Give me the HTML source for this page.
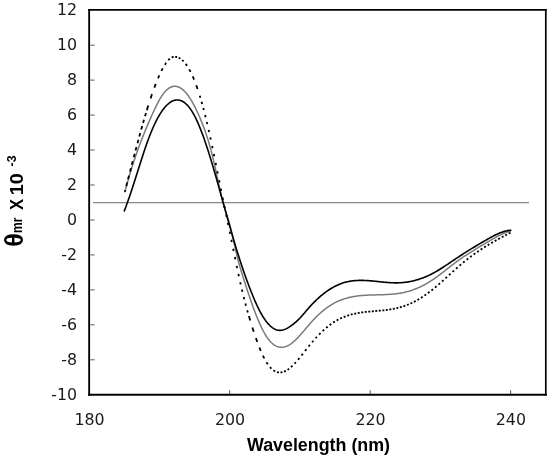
<!DOCTYPE html>
<html><head><meta charset="utf-8"><title>CD spectra</title>
<style>
html,body{margin:0;padding:0;background:#fff;}
body{width:550px;height:458px;overflow:hidden;}
svg{display:block;}
.tk text{font-family:"DejaVu Sans","Liberation Sans",sans-serif;font-size:15.8px;fill:#1a1a1a;}
.ax{font-family:"Liberation Sans",sans-serif;font-weight:bold;fill:#000;}
</style></head><body>
<svg width="550" height="458" viewBox="0 0 550 458">
<rect width="550" height="458" fill="#fff"/>
<line x1="93" x2="529" y1="202.55" y2="202.55" stroke="#888" stroke-width="1.2"/>
<g stroke="#5a5a5a" stroke-width="1"><line x1="90.3" x2="94.6" y1="359.8" y2="359.8"/><line x1="90.3" x2="94.6" y1="324.8" y2="324.8"/><line x1="90.3" x2="94.6" y1="289.9" y2="289.9"/><line x1="90.3" x2="94.6" y1="254.9" y2="254.9"/><line x1="90.3" x2="94.6" y1="220.0" y2="220.0"/><line x1="90.3" x2="94.6" y1="185.0" y2="185.0"/><line x1="90.3" x2="94.6" y1="150.0" y2="150.0"/><line x1="90.3" x2="94.6" y1="115.1" y2="115.1"/><line x1="90.3" x2="94.6" y1="80.1" y2="80.1"/><line x1="90.3" x2="94.6" y1="45.2" y2="45.2"/><line x1="229.7" x2="229.7" y1="390.2" y2="394"/><line x1="370.2" x2="370.2" y1="390.2" y2="394"/><line x1="510.6" x2="510.6" y1="390.2" y2="394"/></g>
<path d="M124.90,191.99 L125.70,188.94 L126.50,185.96 L127.30,183.05 L128.10,180.19 L128.90,177.40 L129.70,174.67 L130.50,171.99 L131.30,169.36 L132.10,166.79 L132.90,164.28 L133.70,161.81 L134.50,159.39 L135.30,157.01 L136.10,154.68 L136.90,152.39 L137.70,150.15 L138.50,147.94 L139.30,145.77 L140.10,143.64 L140.90,141.54 L141.70,139.47 L142.50,137.43 L143.30,135.42 L144.10,133.44 L144.90,131.48 L145.70,129.55 L146.50,127.64 L147.30,125.75 L148.10,123.87 L148.90,122.02 L149.70,120.18 L150.50,118.35 L151.30,116.53 L152.10,114.74 L152.90,112.97 L153.70,111.22 L154.50,109.51 L155.30,107.83 L156.10,106.19 L156.90,104.59 L157.70,103.04 L158.50,101.54 L159.30,100.10 L160.10,98.71 L160.90,97.39 L161.70,96.14 L162.50,94.96 L163.30,93.85 L164.10,92.82 L164.90,91.87 L165.70,90.99 L166.50,90.18 L167.30,89.46 L168.10,88.80 L168.90,88.22 L169.70,87.72 L170.50,87.29 L171.30,86.93 L172.10,86.65 L172.90,86.44 L173.70,86.30 L174.50,86.23 L175.30,86.24 L176.10,86.32 L176.90,86.47 L177.70,86.69 L178.50,86.97 L179.30,87.33 L180.10,87.75 L180.90,88.25 L181.70,88.80 L182.50,89.42 L183.30,90.11 L184.10,90.86 L184.90,91.68 L185.70,92.55 L186.50,93.49 L187.30,94.49 L188.10,95.55 L188.90,96.67 L189.70,97.85 L190.50,99.09 L191.30,100.38 L192.10,101.73 L192.90,103.14 L193.70,104.60 L194.50,106.12 L195.30,107.69 L196.10,109.31 L196.90,110.98 L197.70,112.71 L198.50,114.49 L199.30,116.32 L200.10,118.19 L200.90,120.12 L201.70,122.09 L202.50,124.11 L203.30,126.19 L204.10,128.32 L204.90,130.51 L205.70,132.78 L206.50,135.14 L207.30,137.58 L208.10,140.11 L208.90,142.75 L209.70,145.50 L210.50,148.36 L211.30,151.35 L212.10,154.47 L212.90,157.74 L213.70,161.14 L214.50,164.65 L215.30,168.26 L216.10,171.93 L216.90,175.63 L217.70,179.34 L218.50,183.04 L219.30,186.69 L220.10,190.27 L220.90,193.75 L221.70,197.11 L222.50,200.32 L223.30,203.34 L224.10,206.19 L224.90,208.88 L225.70,211.47 L226.50,214.01 L227.30,216.54 L228.10,219.11 L228.90,221.77 L229.70,224.57 L230.50,227.54 L231.30,230.74 L232.10,234.13 L232.90,237.65 L233.70,241.25 L234.50,244.88 L235.30,248.50 L236.10,252.03 L236.90,255.44 L237.70,258.66 L238.50,261.72 L239.30,264.62 L240.10,267.40 L240.90,270.08 L241.70,272.68 L242.50,275.24 L243.30,277.77 L244.10,280.29 L244.90,282.80 L245.70,285.28 L246.50,287.75 L247.30,290.19 L248.10,292.61 L248.90,295.00 L249.70,297.36 L250.50,299.69 L251.30,301.99 L252.10,304.25 L252.90,306.48 L253.70,308.66 L254.50,310.80 L255.30,312.90 L256.10,314.96 L256.90,316.97 L257.70,318.92 L258.50,320.82 L259.30,322.67 L260.10,324.47 L260.90,326.20 L261.70,327.87 L262.50,329.48 L263.30,331.03 L264.10,332.50 L264.90,333.91 L265.70,335.25 L266.50,336.51 L267.30,337.70 L268.10,338.81 L268.90,339.85 L269.70,340.81 L270.50,341.70 L271.30,342.52 L272.10,343.27 L272.90,343.95 L273.70,344.57 L274.50,345.11 L275.30,345.60 L276.10,346.02 L276.90,346.37 L277.70,346.67 L278.50,346.91 L279.30,347.08 L280.10,347.20 L280.90,347.27 L281.70,347.27 L282.50,347.23 L283.30,347.13 L284.10,346.98 L284.90,346.78 L285.70,346.53 L286.50,346.24 L287.30,345.89 L288.10,345.50 L288.90,345.07 L289.70,344.59 L290.50,344.08 L291.30,343.52 L292.10,342.92 L292.90,342.29 L293.70,341.62 L294.50,340.91 L295.30,340.18 L296.10,339.41 L296.90,338.62 L297.70,337.80 L298.50,336.96 L299.30,336.10 L300.10,335.22 L300.90,334.33 L301.70,333.42 L302.50,332.50 L303.30,331.57 L304.10,330.63 L304.90,329.68 L305.70,328.74 L306.50,327.79 L307.30,326.84 L308.10,325.90 L308.90,324.96 L309.70,324.03 L310.50,323.11 L311.30,322.20 L312.10,321.30 L312.90,320.42 L313.70,319.56 L314.50,318.71 L315.30,317.88 L316.10,317.07 L316.90,316.27 L317.70,315.48 L318.50,314.72 L319.30,313.97 L320.10,313.24 L320.90,312.52 L321.70,311.82 L322.50,311.14 L323.30,310.47 L324.10,309.83 L324.90,309.20 L325.70,308.58 L326.50,307.99 L327.30,307.41 L328.10,306.85 L328.90,306.30 L329.70,305.77 L330.50,305.26 L331.30,304.77 L332.10,304.29 L332.90,303.83 L333.70,303.39 L334.50,302.96 L335.30,302.54 L336.10,302.14 L336.90,301.76 L337.70,301.39 L338.50,301.03 L339.30,300.69 L340.10,300.36 L340.90,300.04 L341.70,299.74 L342.50,299.45 L343.30,299.17 L344.10,298.90 L344.90,298.65 L345.70,298.41 L346.50,298.17 L347.30,297.95 L348.10,297.74 L348.90,297.54 L349.70,297.35 L350.50,297.17 L351.30,297.00 L352.10,296.84 L352.90,296.69 L353.70,296.55 L354.50,296.41 L355.30,296.28 L356.10,296.16 L356.90,296.05 L357.70,295.95 L358.50,295.85 L359.30,295.76 L360.10,295.67 L360.90,295.59 L361.70,295.52 L362.50,295.45 L363.30,295.39 L364.10,295.33 L364.90,295.28 L365.70,295.23 L366.50,295.18 L367.30,295.14 L368.10,295.11 L368.90,295.07 L369.70,295.04 L370.50,295.01 L371.30,294.99 L372.10,294.96 L372.90,294.94 L373.70,294.92 L374.50,294.90 L375.30,294.88 L376.10,294.86 L376.90,294.84 L377.70,294.82 L378.50,294.81 L379.30,294.79 L380.10,294.77 L380.90,294.75 L381.70,294.73 L382.50,294.70 L383.30,294.68 L384.10,294.65 L384.90,294.62 L385.70,294.59 L386.50,294.55 L387.30,294.51 L388.10,294.47 L388.90,294.42 L389.70,294.37 L390.50,294.31 L391.30,294.25 L392.10,294.19 L392.90,294.12 L393.70,294.04 L394.50,293.96 L395.30,293.87 L396.10,293.77 L396.90,293.67 L397.70,293.56 L398.50,293.45 L399.30,293.32 L400.10,293.19 L400.90,293.05 L401.70,292.90 L402.50,292.74 L403.30,292.58 L404.10,292.40 L404.90,292.22 L405.70,292.03 L406.50,291.83 L407.30,291.62 L408.10,291.40 L408.90,291.17 L409.70,290.94 L410.50,290.69 L411.30,290.43 L412.10,290.17 L412.90,289.89 L413.70,289.61 L414.50,289.31 L415.30,289.01 L416.10,288.69 L416.90,288.36 L417.70,288.03 L418.50,287.68 L419.30,287.32 L420.10,286.96 L420.90,286.58 L421.70,286.19 L422.50,285.79 L423.30,285.38 L424.10,284.96 L424.90,284.53 L425.70,284.09 L426.50,283.64 L427.30,283.17 L428.10,282.70 L428.90,282.22 L429.70,281.72 L430.50,281.22 L431.30,280.70 L432.10,280.17 L432.90,279.64 L433.70,279.09 L434.50,278.53 L435.30,277.97 L436.10,277.40 L436.90,276.82 L437.70,276.23 L438.50,275.63 L439.30,275.03 L440.10,274.43 L440.90,273.82 L441.70,273.21 L442.50,272.59 L443.30,271.97 L444.10,271.34 L444.90,270.72 L445.70,270.09 L446.50,269.46 L447.30,268.84 L448.10,268.21 L448.90,267.58 L449.70,266.95 L450.50,266.33 L451.30,265.71 L452.10,265.09 L452.90,264.47 L453.70,263.86 L454.50,263.25 L455.30,262.65 L456.10,262.05 L456.90,261.46 L457.70,260.88 L458.50,260.30 L459.30,259.73 L460.10,259.17 L460.90,258.61 L461.70,258.05 L462.50,257.50 L463.30,256.96 L464.10,256.42 L464.90,255.89 L465.70,255.36 L466.50,254.84 L467.30,254.32 L468.10,253.81 L468.90,253.30 L469.70,252.79 L470.50,252.29 L471.30,251.79 L472.10,251.29 L472.90,250.80 L473.70,250.31 L474.50,249.82 L475.30,249.33 L476.10,248.85 L476.90,248.37 L477.70,247.89 L478.50,247.41 L479.30,246.94 L480.10,246.47 L480.90,245.99 L481.70,245.52 L482.50,245.05 L483.30,244.58 L484.10,244.11 L484.90,243.64 L485.70,243.17 L486.50,242.71 L487.30,242.24 L488.10,241.77 L488.90,241.30 L489.70,240.83 L490.50,240.35 L491.30,239.88 L492.10,239.42 L492.90,238.95 L493.70,238.49 L494.50,238.03 L495.30,237.58 L496.10,237.13 L496.90,236.69 L497.70,236.26 L498.50,235.84 L499.30,235.43 L500.10,235.03 L500.90,234.64 L501.70,234.26 L502.50,233.90 L503.30,233.55 L504.10,233.21 L504.90,232.90 L505.70,232.60 L506.50,232.31 L507.30,232.05 L508.10,231.81 L508.90,231.59 L509.70,231.38 L510.50,231.21 L510.80,231.15" fill="none" stroke="#7a7a7a" stroke-width="1.5" stroke-linejoin="round"/>
<path d="M124.30,191.41L124.61,191.41L124.93,191.31L125.24,190.11 M126.25,186.21L126.56,185.01L126.88,183.80L127.19,182.60 M128.05,179.27L128.36,178.06L128.68,176.85L128.99,175.64 M130.00,171.73L130.32,170.53L130.63,169.32L130.94,168.11 M131.80,164.79L132.12,163.59L132.43,162.39L132.74,161.19 M133.75,157.32L134.07,156.12L134.38,154.93L134.69,153.74 M135.55,150.47L135.87,149.29L136.18,148.11L136.49,146.94 M137.51,143.15L137.82,141.98L138.13,140.82L138.44,139.67 M139.31,136.49L139.62,135.34L139.93,134.20L140.25,133.06 M141.26,129.40L141.57,128.28L141.89,127.17L142.20,126.06 M143.06,123.01L143.38,121.92L143.69,120.83L144.00,119.74 M145.02,116.26L145.33,115.20L145.65,114.15L145.96,113.10 M146.83,110.23L147.30,108.67L147.78,107.13L148.26,105.60 M150.59,98.35L151.06,96.92L151.54,95.51L152.02,94.12 M154.35,87.57L154.81,86.32L155.28,85.10L155.74,83.89 M158.01,78.29L158.45,77.28L158.88,76.29L159.31,75.32 M161.44,70.87L161.87,70.03L162.30,69.20L162.74,68.40 M164.86,64.80L165.29,64.14L165.73,63.50L166.16,62.88 M168.28,60.24L168.80,59.69L169.32,59.19L169.84,58.74 M171.71,57.48L172.36,57.19L173.01,56.99L173.67,56.86 M175.17,56.81L175.81,56.88L176.46,57.00L177.10,57.16 M178.68,57.74L179.24,58.01L179.79,58.32L180.35,58.67 M182.19,60.07L182.64,60.47L183.09,60.90L183.54,61.36 M185.70,63.89L186.15,64.49L186.59,65.11L187.04,65.76 M189.21,69.32L189.66,70.13L190.10,70.96L190.55,71.82 M192.72,76.41L193.17,77.43L193.61,78.48L194.06,79.55 M196.23,85.20L196.68,86.43L197.12,87.69L197.57,88.98 M199.75,95.70L199.96,96.38L200.17,97.08L200.38,97.78 M201.57,101.84L201.78,102.58L201.99,103.33L202.20,104.09 M203.26,107.94L203.44,108.64L203.63,109.34L203.82,110.05 M205.08,115.00L205.27,115.75L205.45,116.50L205.64,117.26 M206.77,121.93L206.94,122.64L207.11,123.36L207.27,124.09 M208.59,129.83L208.76,130.58L208.93,131.34L209.10,132.09 M210.28,137.43L210.44,138.16L210.59,138.90L210.75,139.63 M212.10,145.95L212.26,146.70L212.42,147.46L212.58,148.21 M213.79,154.02L213.94,154.76L214.09,155.50L214.25,156.24 M215.61,162.92L215.77,163.67L215.92,164.43L216.07,165.18 M217.30,171.24L217.45,171.99L217.60,172.74L217.75,173.49 M219.12,180.30L219.28,181.05L219.43,181.80L219.58,182.55 M220.81,188.65L220.96,189.41L221.12,190.17L221.27,190.93 M222.63,197.64L222.79,198.39L222.94,199.14L223.09,199.89 M224.32,205.84L224.48,206.60L224.63,207.35L224.79,208.10 M226.15,214.66L226.30,215.41L226.46,216.16L226.61,216.91 M227.83,222.78L227.99,223.53L228.14,224.28L228.30,225.02 M229.66,231.60L229.81,232.35L229.97,233.10L230.12,233.85 M231.34,239.80L231.49,240.54L231.65,241.29L231.80,242.04 M233.17,248.76L233.32,249.51L233.47,250.26L233.63,251.02 M234.85,257.03L235.01,257.80L235.16,258.56L235.32,259.33 M236.68,265.90L236.83,266.65L236.99,267.40L237.15,268.15 M238.36,273.89L238.53,274.67L238.70,275.45L238.87,276.23 M240.19,282.24L240.36,282.99L240.52,283.73L240.69,284.47 M241.87,289.56L242.06,290.35L242.25,291.13L242.43,291.90 M243.70,297.03L243.89,297.77L244.07,298.51L244.26,299.24 M245.38,303.55L245.59,304.32L245.80,305.09L246.00,305.85 M247.21,310.23L247.42,310.96L247.62,311.69L247.83,312.42 M248.89,316.10L249.34,317.61L249.78,319.10L250.23,320.57 M252.41,327.59L252.85,328.98L253.29,330.35L253.74,331.71 M255.92,338.13L256.36,339.38L256.81,340.62L257.25,341.84 M259.43,347.54L259.87,348.64L260.32,349.72L260.76,350.78 M262.94,355.62L263.38,356.54L263.83,357.44L264.27,358.30 M266.45,362.18L266.89,362.90L267.34,363.58L267.78,364.24 M269.96,367.05L270.45,367.60L270.94,368.11L271.43,368.60 M273.47,370.28L274.07,370.67L274.66,371.03L275.26,371.34 M276.98,372.01L277.64,372.19L278.31,372.31L278.97,372.39 M280.49,372.41L281.14,372.35L281.79,372.25L282.44,372.11 M284.00,371.62L284.59,371.38L285.18,371.11L285.78,370.82 M287.51,369.79L288.04,369.44L288.57,369.07L289.10,368.67 M291.02,367.09L291.50,366.66L291.98,366.22L292.46,365.77 M294.53,363.68L294.98,363.21L295.42,362.73L295.87,362.24 M298.04,359.74L298.49,359.21L298.93,358.68L299.38,358.14 M301.56,355.45L302.00,354.89L302.44,354.33L302.89,353.77 M305.07,350.99L305.51,350.43L305.96,349.86L306.40,349.29 M308.58,346.54L309.02,345.99L309.47,345.44L309.91,344.89 M312.09,342.27L312.53,341.75L312.98,341.23L313.42,340.72 M315.60,338.26L316.05,337.76L316.51,337.26L316.97,336.77 M319.11,334.52L319.58,334.04L320.06,333.56L320.54,333.09 M322.62,331.07L323.12,330.61L323.61,330.15L324.11,329.70 M326.13,327.93L326.65,327.49L327.17,327.06L327.69,326.63 M329.64,325.10L330.18,324.69L330.73,324.29L331.27,323.90 M333.15,322.61L333.72,322.23L334.29,321.87L334.86,321.52 M336.66,320.45L337.25,320.12L337.84,319.79L338.43,319.48 M340.17,318.60L340.78,318.31L341.39,318.03L342.00,317.76 M343.68,317.04L344.31,316.79L344.93,316.55L345.56,316.32 M347.19,315.74L347.83,315.53L348.47,315.33L349.11,315.13 M350.71,314.67L351.35,314.49L352.00,314.32L352.65,314.16 M354.22,313.79L354.87,313.64L355.53,313.51L356.18,313.37 M357.73,313.08L358.39,312.96L359.05,312.85L359.71,312.75 M361.24,312.51L361.90,312.42L362.57,312.33L363.23,312.24 M364.75,312.06L365.42,311.98L366.08,311.91L366.74,311.84 M368.27,311.68L368.93,311.62L369.59,311.56L370.26,311.50 M371.78,311.37L372.44,311.31L373.11,311.25L373.77,311.20 M375.29,311.07L375.96,311.02L376.62,310.96L377.28,310.90 M378.80,310.77L379.47,310.71L380.13,310.65L380.79,310.59 M382.32,310.44L382.98,310.37L383.64,310.30L384.30,310.23 M385.83,310.05L386.49,309.97L387.15,309.88L387.81,309.79 M389.34,309.57L390.00,309.46L390.65,309.36L391.31,309.24 M392.85,308.96L393.50,308.84L394.16,308.71L394.81,308.57 M396.36,308.22L397.01,308.07L397.66,307.91L398.30,307.75 M399.88,307.33L400.51,307.15L401.15,306.96L401.79,306.77 M403.39,306.26L404.02,306.05L404.64,305.83L405.27,305.61 M406.90,305.01L407.52,304.77L408.13,304.52L408.75,304.27 M410.41,303.55L411.01,303.28L411.62,303.00L412.22,302.72 M413.92,301.88L414.51,301.58L415.10,301.27L415.69,300.96 M417.44,300.00L418.01,299.67L418.58,299.34L419.15,299.00 M420.95,297.90L421.51,297.55L422.06,297.20L422.62,296.83 M424.46,295.61L425.00,295.24L425.55,294.86L426.09,294.48 M427.97,293.12L428.50,292.73L429.03,292.33L429.56,291.93 M431.48,290.44L432.00,290.03L432.52,289.62L433.04,289.20 M435.00,287.59L435.50,287.17L436.01,286.74L436.52,286.31 M438.51,284.59L439.01,284.16L439.51,283.72L440.01,283.28 M442.02,281.49L442.51,281.05L443.01,280.60L443.50,280.16 M445.53,278.31L446.02,277.87L446.52,277.42L447.01,276.97 M449.04,275.10L449.54,274.65L450.03,274.20L450.52,273.75 M452.56,271.89L453.05,271.44L453.55,271.00L454.04,270.55 M456.07,268.72L456.57,268.28L457.07,267.83L457.57,267.39 M459.58,265.62L460.09,265.18L460.60,264.75L461.10,264.31 M463.09,262.63L463.61,262.21L464.13,261.78L464.64,261.36 M466.60,259.79L467.13,259.37L467.66,258.96L468.19,258.55 M470.12,257.07L470.65,256.67L471.19,256.27L471.73,255.87 M473.63,254.49L474.17,254.10L474.72,253.71L475.26,253.33 M477.14,252.02L477.69,251.65L478.25,251.27L478.80,250.90 M480.65,249.67L481.21,249.30L481.77,248.94L482.33,248.57 M484.16,247.41L484.73,247.05L485.30,246.70L485.87,246.35 M487.68,245.24L488.25,244.90L488.82,244.55L489.39,244.21 M491.19,243.15L491.77,242.82L492.34,242.48L492.92,242.15 M494.70,241.13L495.28,240.80L495.86,240.48L496.45,240.15 M498.21,239.17L498.80,238.85L499.38,238.53L499.97,238.21 M501.72,237.26L502.31,236.95L502.90,236.63L503.49,236.32 M505.24,235.40L505.83,235.08L506.42,234.77L507.01,234.46 M508.75,233.56L509.35,233.25L509.94,232.94L510.54,232.63" fill="none" stroke="#000" stroke-width="1.8"/>
<path d="M124.30,210.97 L125.10,208.86 L125.90,206.71 L126.70,204.52 L127.50,202.29 L128.30,200.03 L129.10,197.73 L129.90,195.40 L130.70,193.04 L131.50,190.65 L132.30,188.24 L133.10,185.80 L133.90,183.34 L134.70,180.86 L135.50,178.36 L136.30,175.85 L137.10,173.33 L137.90,170.80 L138.70,168.26 L139.50,165.73 L140.30,163.21 L141.10,160.70 L141.90,158.21 L142.70,155.73 L143.50,153.29 L144.30,150.87 L145.10,148.49 L145.90,146.15 L146.70,143.86 L147.50,141.62 L148.30,139.42 L149.10,137.29 L149.90,135.22 L150.70,133.20 L151.50,131.24 L152.30,129.34 L153.10,127.50 L153.90,125.72 L154.70,124.00 L155.50,122.34 L156.30,120.73 L157.10,119.18 L157.90,117.70 L158.70,116.27 L159.50,114.90 L160.30,113.59 L161.10,112.34 L161.90,111.15 L162.70,110.02 L163.50,108.95 L164.30,107.94 L165.10,106.99 L165.90,106.10 L166.70,105.27 L167.50,104.50 L168.30,103.79 L169.10,103.14 L169.90,102.55 L170.70,102.02 L171.50,101.55 L172.30,101.14 L173.10,100.79 L173.90,100.50 L174.70,100.28 L175.50,100.11 L176.30,100.01 L177.10,99.96 L177.90,99.98 L178.70,100.06 L179.50,100.21 L180.30,100.42 L181.10,100.70 L181.90,101.04 L182.70,101.45 L183.50,101.93 L184.30,102.47 L185.10,103.09 L185.90,103.77 L186.70,104.53 L187.50,105.36 L188.30,106.26 L189.10,107.23 L189.90,108.28 L190.70,109.40 L191.50,110.60 L192.30,111.87 L193.10,113.22 L193.90,114.65 L194.70,116.15 L195.50,117.72 L196.30,119.37 L197.10,121.09 L197.90,122.87 L198.70,124.72 L199.50,126.64 L200.30,128.61 L201.10,130.65 L201.90,132.74 L202.70,134.89 L203.50,137.09 L204.30,139.35 L205.10,141.66 L205.90,144.01 L206.70,146.41 L207.50,148.86 L208.30,151.34 L209.10,153.87 L209.90,156.44 L210.70,159.04 L211.50,161.68 L212.30,164.35 L213.10,167.05 L213.90,169.78 L214.70,172.53 L215.50,175.31 L216.30,178.10 L217.10,180.92 L217.90,183.76 L218.70,186.61 L219.50,189.47 L220.30,192.34 L221.10,195.22 L221.90,198.10 L222.70,200.99 L223.50,203.88 L224.30,206.77 L225.10,209.66 L225.90,212.54 L226.70,215.41 L227.50,218.28 L228.30,221.13 L229.10,223.97 L229.90,226.79 L230.70,229.60 L231.50,232.38 L232.30,235.15 L233.10,237.89 L233.90,240.61 L234.70,243.31 L235.50,245.98 L236.30,248.61 L237.10,251.22 L237.90,253.80 L238.70,256.34 L239.50,258.85 L240.30,261.33 L241.10,263.77 L241.90,266.18 L242.70,268.56 L243.50,270.90 L244.30,273.21 L245.10,275.49 L245.90,277.74 L246.70,279.95 L247.50,282.14 L248.30,284.29 L249.10,286.41 L249.90,288.50 L250.70,290.55 L251.50,292.58 L252.30,294.57 L253.10,296.52 L253.90,298.44 L254.70,300.31 L255.50,302.14 L256.30,303.92 L257.10,305.65 L257.90,307.33 L258.70,308.96 L259.50,310.53 L260.30,312.04 L261.10,313.49 L261.90,314.88 L262.70,316.22 L263.50,317.49 L264.30,318.71 L265.10,319.86 L265.90,320.96 L266.70,322.00 L267.50,322.97 L268.30,323.89 L269.10,324.75 L269.90,325.55 L270.70,326.28 L271.50,326.96 L272.30,327.57 L273.10,328.13 L273.90,328.62 L274.70,329.06 L275.50,329.43 L276.30,329.74 L277.10,329.99 L277.90,330.17 L278.70,330.30 L279.50,330.36 L280.30,330.37 L281.10,330.31 L281.90,330.20 L282.70,330.03 L283.50,329.81 L284.30,329.55 L285.10,329.24 L285.90,328.88 L286.70,328.49 L287.50,328.06 L288.30,327.60 L289.10,327.10 L289.90,326.58 L290.70,326.03 L291.50,325.46 L292.30,324.87 L293.10,324.26 L293.90,323.62 L294.70,322.97 L295.50,322.30 L296.30,321.60 L297.10,320.87 L297.90,320.12 L298.70,319.34 L299.50,318.53 L300.30,317.69 L301.10,316.82 L301.90,315.93 L302.70,315.02 L303.50,314.09 L304.30,313.15 L305.10,312.20 L305.90,311.25 L306.70,310.31 L307.50,309.37 L308.30,308.45 L309.10,307.54 L309.90,306.64 L310.70,305.76 L311.50,304.90 L312.30,304.05 L313.10,303.22 L313.90,302.40 L314.70,301.60 L315.50,300.81 L316.30,300.04 L317.10,299.28 L317.90,298.54 L318.70,297.81 L319.50,297.10 L320.30,296.40 L321.10,295.72 L321.90,295.06 L322.70,294.41 L323.50,293.77 L324.30,293.15 L325.10,292.55 L325.90,291.96 L326.70,291.38 L327.50,290.82 L328.30,290.28 L329.10,289.75 L329.90,289.24 L330.70,288.74 L331.50,288.25 L332.30,287.78 L333.10,287.33 L333.90,286.89 L334.70,286.47 L335.50,286.06 L336.30,285.67 L337.10,285.29 L337.90,284.93 L338.70,284.58 L339.50,284.25 L340.30,283.93 L341.10,283.63 L341.90,283.34 L342.70,283.07 L343.50,282.81 L344.30,282.57 L345.10,282.34 L345.90,282.13 L346.70,281.93 L347.50,281.74 L348.30,281.57 L349.10,281.41 L349.90,281.27 L350.70,281.14 L351.50,281.02 L352.30,280.91 L353.10,280.81 L353.90,280.72 L354.70,280.65 L355.50,280.58 L356.30,280.53 L357.10,280.48 L357.90,280.44 L358.70,280.42 L359.50,280.40 L360.30,280.39 L361.10,280.38 L361.90,280.39 L362.70,280.40 L363.50,280.42 L364.30,280.45 L365.10,280.48 L365.90,280.52 L366.70,280.56 L367.50,280.61 L368.30,280.66 L369.10,280.72 L369.90,280.78 L370.70,280.85 L371.50,280.92 L372.30,280.99 L373.10,281.06 L373.90,281.14 L374.70,281.22 L375.50,281.30 L376.30,281.38 L377.10,281.46 L377.90,281.55 L378.70,281.63 L379.50,281.72 L380.30,281.80 L381.10,281.88 L381.90,281.96 L382.70,282.05 L383.50,282.12 L384.30,282.20 L385.10,282.27 L385.90,282.34 L386.70,282.41 L387.50,282.48 L388.30,282.54 L389.10,282.59 L389.90,282.64 L390.70,282.69 L391.50,282.73 L392.30,282.77 L393.10,282.80 L393.90,282.82 L394.70,282.84 L395.50,282.85 L396.30,282.85 L397.10,282.84 L397.90,282.83 L398.70,282.81 L399.50,282.78 L400.30,282.74 L401.10,282.69 L401.90,282.63 L402.70,282.57 L403.50,282.49 L404.30,282.41 L405.10,282.32 L405.90,282.22 L406.70,282.11 L407.50,281.99 L408.30,281.86 L409.10,281.73 L409.90,281.58 L410.70,281.43 L411.50,281.26 L412.30,281.09 L413.10,280.91 L413.90,280.71 L414.70,280.51 L415.50,280.30 L416.30,280.08 L417.10,279.85 L417.90,279.61 L418.70,279.37 L419.50,279.11 L420.30,278.84 L421.10,278.56 L421.90,278.28 L422.70,277.98 L423.50,277.67 L424.30,277.36 L425.10,277.03 L425.90,276.69 L426.70,276.35 L427.50,275.99 L428.30,275.63 L429.10,275.25 L429.90,274.86 L430.70,274.47 L431.50,274.06 L432.30,273.65 L433.10,273.22 L433.90,272.78 L434.70,272.34 L435.50,271.89 L436.30,271.42 L437.10,270.96 L437.90,270.48 L438.70,270.00 L439.50,269.51 L440.30,269.01 L441.10,268.51 L441.90,268.00 L442.70,267.49 L443.50,266.97 L444.30,266.45 L445.10,265.93 L445.90,265.40 L446.70,264.87 L447.50,264.33 L448.30,263.80 L449.10,263.26 L449.90,262.72 L450.70,262.18 L451.50,261.64 L452.30,261.10 L453.10,260.56 L453.90,260.02 L454.70,259.48 L455.50,258.94 L456.30,258.41 L457.10,257.87 L457.90,257.34 L458.70,256.82 L459.50,256.29 L460.30,255.77 L461.10,255.25 L461.90,254.73 L462.70,254.21 L463.50,253.70 L464.30,253.19 L465.10,252.68 L465.90,252.17 L466.70,251.66 L467.50,251.16 L468.30,250.66 L469.10,250.16 L469.90,249.67 L470.70,249.17 L471.50,248.68 L472.30,248.19 L473.10,247.70 L473.90,247.22 L474.70,246.73 L475.50,246.25 L476.30,245.77 L477.10,245.29 L477.90,244.82 L478.70,244.34 L479.50,243.87 L480.30,243.40 L481.10,242.93 L481.90,242.46 L482.70,242.00 L483.50,241.53 L484.30,241.07 L485.10,240.61 L485.90,240.15 L486.70,239.70 L487.50,239.24 L488.30,238.79 L489.10,238.34 L489.90,237.89 L490.70,237.45 L491.50,237.01 L492.30,236.58 L493.10,236.15 L493.90,235.73 L494.70,235.33 L495.50,234.93 L496.30,234.54 L497.10,234.16 L497.90,233.79 L498.70,233.44 L499.50,233.10 L500.30,232.77 L501.10,232.46 L501.90,232.17 L502.70,231.89 L503.50,231.63 L504.30,231.39 L505.10,231.17 L505.90,230.97 L506.70,230.79 L507.50,230.63 L508.30,230.50 L509.10,230.38 L509.90,230.30 L510.70,230.24 L510.80,230.23" fill="none" stroke="#000" stroke-width="1.6" stroke-linejoin="round" stroke-linecap="round"/>
<g stroke="#000" fill="none">
<line x1="89.15" x2="89.15" y1="9.1" y2="395.85" stroke-width="1.85"/>
<line x1="88.22" x2="546.65" y1="394.85" y2="394.85" stroke-width="2"/>
<line x1="88.22" x2="546.65" y1="9.9" y2="9.9" stroke-width="1.6"/>
<line x1="545.8" x2="545.8" y1="9.1" y2="395.85" stroke-width="1.7"/>
</g>
<g class="tk"><text x="77" y="400.0" text-anchor="end">-10</text><text x="77" y="365.1" text-anchor="end">-8</text><text x="77" y="330.1" text-anchor="end">-6</text><text x="77" y="295.1" text-anchor="end">-4</text><text x="77" y="260.2" text-anchor="end">-2</text><text x="77" y="225.2" text-anchor="end">0</text><text x="77" y="190.2" text-anchor="end">2</text><text x="77" y="155.3" text-anchor="end">4</text><text x="77" y="120.3" text-anchor="end">6</text><text x="77" y="85.4" text-anchor="end">8</text><text x="77" y="50.4" text-anchor="end">10</text><text x="77" y="15.4" text-anchor="end">12</text><text x="89.6" y="424.7" text-anchor="middle">180</text><text x="230.0" y="424.7" text-anchor="middle">200</text><text x="370.5" y="424.7" text-anchor="middle">220</text><text x="510.9" y="424.7" text-anchor="middle">240</text></g>
<text class="ax" x="318.5" y="450.5" text-anchor="middle" font-size="17.85">Wavelength (nm)</text>
<g transform="translate(23,246.8) rotate(-90)" class="ax">
<text x="0" y="0" font-size="25">θ</text>
<text transform="translate(13.9,-0.6) scale(1,1.25)" font-size="12">mr</text>
<text transform="translate(36.7,0) scale(0.9,1)" font-size="18.4">X</text>
<text transform="translate(51.6,0) scale(1.08,1)" font-size="18.4">10</text>
<text transform="translate(80.4,-7) scale(1,1)" font-size="12.3">-3</text>
</g>
</svg>
</body></html>
